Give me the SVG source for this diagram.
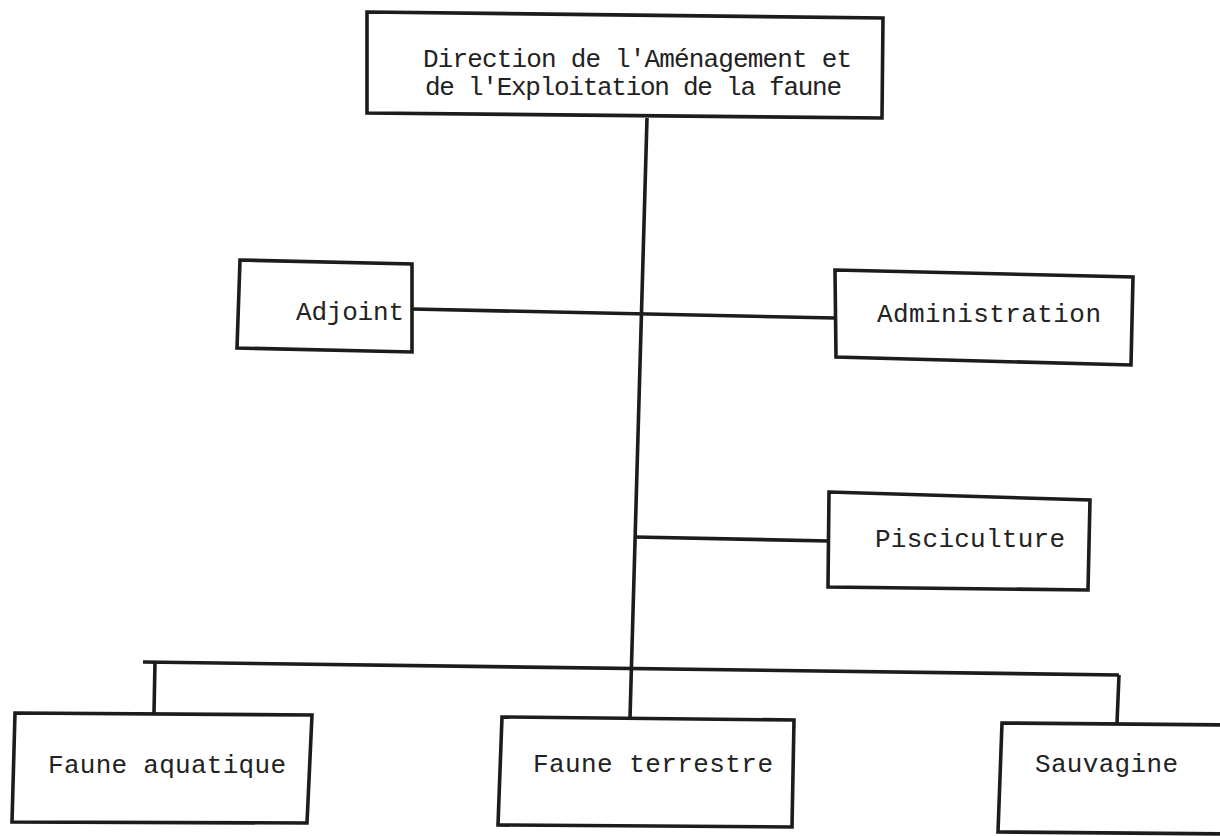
<svg xmlns="http://www.w3.org/2000/svg" width="1220" height="836" viewBox="0 0 1220 836">
<style>
.box{fill:#ffffff;stroke:#1c1c1c;stroke-width:3.6;stroke-linejoin:miter}
.ln{fill:none;stroke:#1c1c1c;stroke-width:3.6;stroke-linecap:butt}
.t{font-family:"Liberation Mono","DejaVu Sans Mono",monospace;font-size:26px;fill:#222222}
</style>
<rect width="1220" height="836" fill="#ffffff"/>
<g id="connectors">
<path class="ln" d="M647,118 L630,718"/>
<path class="ln" d="M412,309 L835,318"/>
<path class="ln" d="M635,537 L829,541"/>
<path class="ln" d="M143,662 L1119,675"/>
<path class="ln" d="M155,662 L154,713"/>
<path class="ln" d="M1119,675 L1117,723"/>
</g>
<g id="direction">
<path class="box" d="M367,12 L883,18 L882,118 L367,113 Z"/>
<text class="t" x="423" y="67" textLength="429" lengthAdjust="spacing">Direction de l'Aménagement et</text>
<text class="t" x="425" y="95" textLength="417" lengthAdjust="spacing">de l'Exploitation de la faune</text>
</g>
<g id="adjoint">
<path class="box" d="M240,260 L412,264 L412,352 L237,348 Z"/>
<text class="t" x="296" y="320" textLength="108" lengthAdjust="spacing">Adjoint</text>
</g>
<g id="administration">
<path class="box" d="M835,270 L1133,277 L1131,365 L836,357 Z"/>
<text class="t" x="877" y="322" textLength="224" lengthAdjust="spacing">Administration</text>
</g>
<g id="pisciculture">
<path class="box" d="M829,492 L1090,500 L1088,590 L828,587 Z"/>
<text class="t" x="875" y="547" textLength="190" lengthAdjust="spacing">Pisciculture</text>
</g>
<g id="faune-aquatique">
<path class="box" d="M15,713 L312,715 L307,823 L12,822 Z"/>
<text class="t" x="48" y="773" textLength="238" lengthAdjust="spacing">Faune aquatique</text>
</g>
<g id="faune-terrestre">
<path class="box" d="M502,717 L794,720 L792,827 L498,825 Z"/>
<text class="t" x="533" y="772" textLength="240" lengthAdjust="spacing">Faune terrestre</text>
</g>
<g id="sauvagine">
<path class="box" d="M1232,725 L1002,723 L998,832 L1232,834"/>
<text class="t" x="1035" y="772" textLength="143" lengthAdjust="spacing">Sauvagine</text>
</g>
</svg>
